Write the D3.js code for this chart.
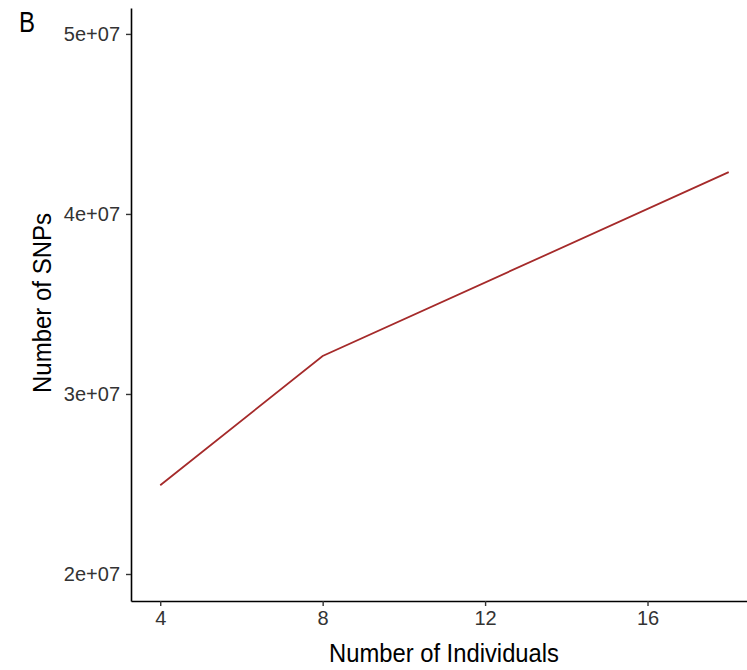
<!DOCTYPE html>
<html>
<head>
<meta charset="utf-8">
<script src="https://cdn.jsdelivr.net/npm/d3@7"></script>
<style>
  body { margin: 0; background: #fff; }
  svg text { font-family: "Liberation Sans", Arial, sans-serif; }
</style>
</head>
<body>
<div id="chart"></div>
<script>
// datos
const individuals = [4, 8, 18];
const snps = [24930000, 32110000, 42320000];
const xTicks = [4, 8, 12, 16];
const yTicks = [20000000, 30000000, 40000000, 50000000];
const yTickLabels = ["2e+07", "3e+07", "4e+07", "5e+07"];

const w = 747, h = 670;
const margin = { top: 8, right: 0, bottom: 69, left: 131 };
const lineColor = "#A52A2A";

const svg = d3.select("#chart")
    .append("svg")
    .attr("width", w)
    .attr("height", h);

const xScale = d3.scaleLinear()
    .domain([3.28, 18.45])
    .range([margin.left, w - margin.right]);

const yScale = d3.scaleLinear()
    .domain([18500000, 51440000])
    .range([h - margin.bottom, margin.top]);

// ejes
const xAxis = g => g
    .attr("transform", `translate(0,${h - margin.bottom})`)
    .call(d3.axisBottom(xScale).tickValues(xTicks).tickSize(5).tickPadding(5).tickSizeOuter(0))

const yAxis = g => g
    .attr("transform", `translate(${margin.left},0)`)
    .call(d3.axisLeft(yScale).tickValues(yTicks)
        .tickFormat((d, i) => yTickLabels[i]).tickSize(5).tickPadding(6).tickSizeOuter(0));

svg.append("g").attr("class", "eje").call(xAxis);
svg.append("g").attr("class", "eje").call(yAxis);

svg.selectAll(".eje .domain")
    .attr("stroke", "#000")
    .attr("stroke-width", 1.6);
svg.selectAll(".eje .tick line")
    .attr("stroke", "#333")
    .attr("stroke-width", 1.4);
svg.selectAll(".eje .tick text")
    .attr("fill", "#333")
    .style("font-size", "20px");

// linea
const line = d3.line()
    .x((d, i) => xScale(individuals[i]))
    .y(d => yScale(d));

svg.append("path")
    .datum(snps)
    .attr("fill", "none")
    .attr("stroke", lineColor)
    .attr("stroke-width", 1.8)
    .attr("d", line);

// titulos de los ejes
svg.append("text")
    .attr("x", 444)
    .attr("y", 662)
    .attr("text-anchor", "middle")
    .attr("textLength", 230)
    .attr("lengthAdjust", "spacingAndGlyphs")
    .style("font-size", "25px")
    .attr("fill", "#000")
    .text("Number of Individuals");

svg.append("text")
    .attr("transform", "translate(51,303) rotate(-90)")
    .attr("text-anchor", "middle")
    .attr("textLength", 180)
    .attr("lengthAdjust", "spacingAndGlyphs")
    .style("font-size", "25px")
    .attr("fill", "#000")
    .text("Number of SNPs");

// etiqueta del panel
svg.append("text")
    .attr("x", 19)
    .attr("y", 32)
    .attr("textLength", 16)
    .attr("lengthAdjust", "spacingAndGlyphs")
    .style("font-size", "30px")
    .attr("fill", "#000")
    .text("B");
</script>
</body>
</html>
